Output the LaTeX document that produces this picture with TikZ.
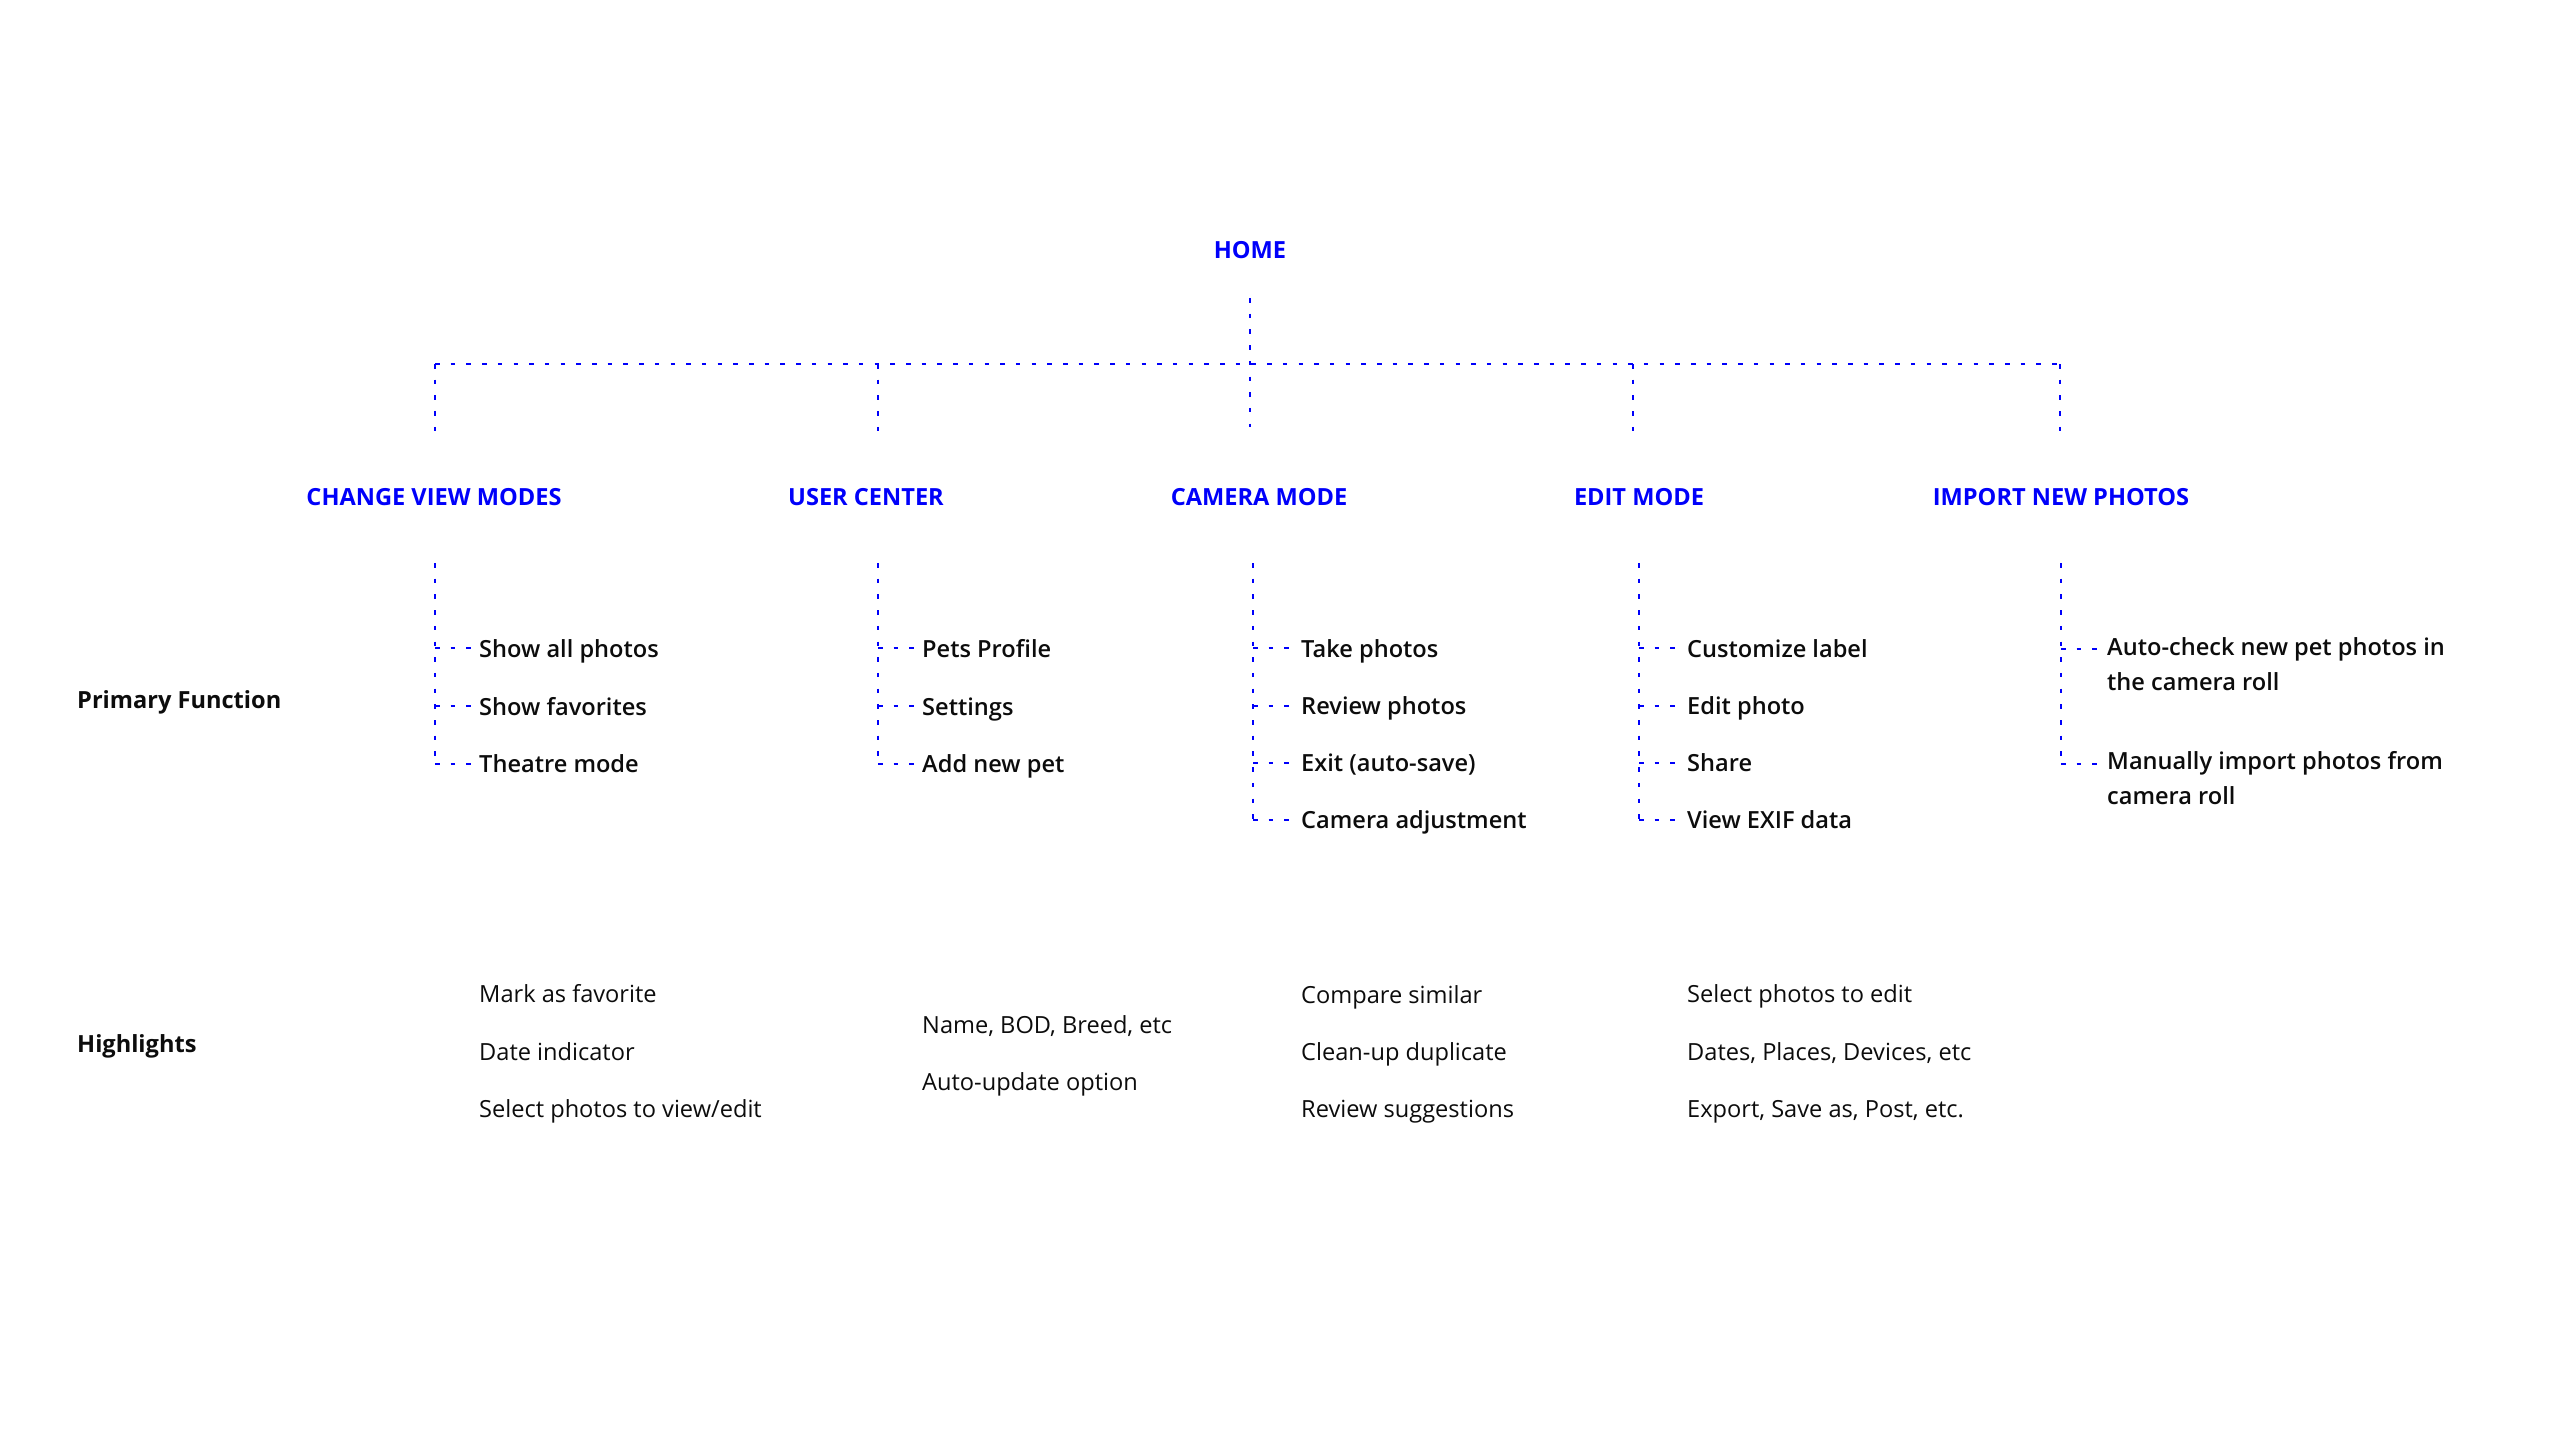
\documentclass[tikz,border=0pt]{standalone}
\usepackage{fontspec}
\setmainfont{Open Sans}
\newfontfamily\semi{Open Sans Semibold}
\definecolor{hblue}{RGB}{0,0,250}
\definecolor{tblack}{RGB}{12,12,12}
\tikzset{
  dl/.style={hblue, line width=1.9pt, dash pattern=on 4.5pt off 11.2pt},
  head/.style={inner sep=0pt, anchor=base, text=hblue, font=\fontsize{23.6}{30}\bfseries},
  rowlab/.style={inner sep=0pt, anchor=base west, text=tblack, font=\fontsize{23.6}{30}\bfseries},
  item/.style={inner sep=0pt, anchor=base west, text=tblack, font=\fontsize{23.6}{35}\semi, align=left},
  hl/.style={inner sep=0pt, anchor=base west, text=tblack, font=\fontsize{23.6}{30}\selectfont}
}
\begin{document}
\begin{tikzpicture}[x=1pt,y=-1pt]
\useasboundingbox (0,0) rectangle (2560,1440);
% headers
\node[head] (home) at (1250,258) {HOME};
\node[head] (h1) at (434,505) {CHANGE VIEW MODES};
\node[head] (h2) at (866,505) {USER CENTER};
\node[head] (h3) at (1259,505) {CAMERA MODE};
\node[head] (h4) at (1639,505) {EDIT MODE};
\node[head] (h5) at (2061,505) {IMPORT NEW PHOTOS};
% row labels
\node[rowlab] (pf) at (77,708) {Primary Function};
\node[rowlab] (hlab) at (77,1052) {Highlights};
% tree coordinates
\coordinate (ht) at (1250,298);
\coordinate (hj) at (1250,364);
\coordinate (j1) at (435,364);
\coordinate (j2) at (878,364);
\coordinate (j4) at (1633,364);
\coordinate (j5) at (2060,364);
\coordinate (b1) at (435,431);
\coordinate (b2) at (878,431);
\coordinate (b3) at (1250,427);
\coordinate (b4) at (1633,431);
\coordinate (b5) at (2060,431);
\draw[dl] (ht) -- (b3);
\draw[dl] (j1) -- (j5);
\draw[dl] (j1) -- (b1);
\draw[dl] (j2) -- (b2);
\draw[dl] (j4) -- (b4);
\draw[dl] (j5) -- (b5);
% column 1
\node[item] (c1a) at (479,657) {Show all photos};
\node[item] (c1b) at (479,715) {Show favorites};
\node[item] (c1c) at (479,772) {Theatre mode};
\coordinate (s1) at (435,563);
\coordinate (e1) at (435,766);
\draw[dl] (s1) -- (e1);
\foreach \n/\y in {c1a/648,c1b/706,c1c/764} \draw[dl] (435,\y) -- ([xshift=-8pt]\n.west |- 0,\y);
% column 2
\node[item] (c2a) at (922,657) {Pets Profile};
\node[item] (c2b) at (922,715) {Settings};
\node[item] (c2c) at (922,772) {Add new pet};
\coordinate (s2) at (878,563);
\coordinate (e2) at (878,766);
\draw[dl] (s2) -- (e2);
\foreach \n/\y in {c2a/648,c2b/706,c2c/764} \draw[dl] (878,\y) -- ([xshift=-8pt]\n.west |- 0,\y);
% column 3
\node[item] (c3a) at (1301,657) {Take photos};
\node[item] (c3b) at (1301,714) {Review photos};
\node[item] (c3c) at (1301,771) {Exit (auto-save)};
\node[item] (c3d) at (1301,828) {Camera adjustment};
\coordinate (s3) at (1253,563);
\coordinate (e3) at (1253,820);
\draw[dl] (s3) -- (e3);
\foreach \n/\y in {c3a/648,c3b/706,c3c/763,c3d/820} \draw[dl] (1253,\y) -- ([xshift=-8pt]\n.west |- 0,\y);
% column 4
\node[item] (c4a) at (1687,657) {Customize label};
\node[item] (c4b) at (1687,714) {Edit photo};
\node[item] (c4c) at (1687,771) {Share};
\node[item] (c4d) at (1687,828) {View EXIF data};
\coordinate (s4) at (1639,563);
\coordinate (e4) at (1639,820);
\draw[dl] (s4) -- (e4);
\foreach \n/\y in {c4a/648,c4b/706,c4c/763,c4d/820} \draw[dl] (1639,\y) -- ([xshift=-8pt]\n.west |- 0,\y);
% column 5
\node[item] (c5a) at (2107,690) {Auto-check new pet photos in\\the camera roll};
\node[item] (c5b) at (2107,804) {Manually import photos from\\camera roll};
\coordinate (s5) at (2061,563);
\coordinate (e5) at (2061,765);
\draw[dl] (s5) -- (e5);
\draw[dl] (2061,649) -- (2099,649);
\draw[dl] (2061,764) -- (2099,764);
% highlights
\node[hl] (k1a) at (479,1002) {Mark as favorite};
\node[hl] (k1b) at (479,1060) {Date indicator};
\node[hl] (k1c) at (479,1117) {Select photos to view/edit};
\node[hl] (k2a) at (922,1033) {Name, BOD, Breed, etc};
\node[hl] (k2b) at (922,1090) {Auto-update option};
\node[hl] (k3a) at (1301,1003) {Compare similar};
\node[hl] (k3b) at (1301,1060) {Clean-up duplicate};
\node[hl] (k3c) at (1301,1117) {Review suggestions};
\node[hl] (k4a) at (1687,1002) {Select photos to edit};
\node[hl] (k4b) at (1687,1060) {Dates, Places, Devices, etc};
\node[hl] (k4c) at (1687,1117) {Export, Save as, Post, etc.};
\end{tikzpicture}
\end{document}
